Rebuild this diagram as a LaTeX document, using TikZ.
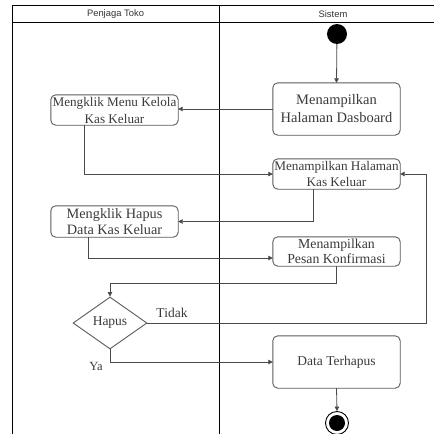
\documentclass[tikz,border=0pt]{standalone}
\usepackage{fontspec}
\setmainfont{Liberation Serif}
\newfontfamily\hdrfont{Liberation Sans}
\usetikzlibrary{arrows.meta,shapes.geometric}
\definecolor{boxline}{HTML}{5A5A5A}
\definecolor{txt}{HTML}{3A3A3A}
\definecolor{conn}{HTML}{4A4A4A}
\tikzset{
  act/.style={minimum width=127pt,inner sep=0pt,align=center,text=txt,font=\fontsize{13.5}{15.5}\selectfont},
  actbox/.style={draw=boxline,line width=0.9pt,rounded corners=5pt},
  dec/.style={draw=boxline,line width=0.9pt,diamond,minimum width=74pt,minimum height=52pt,inner sep=0pt,text=txt,font=\fontsize{13.5}{15}\selectfont},
  flow/.style={draw=conn,line width=0.8pt,-{Triangle[length=4.5pt,width=4.5pt]}},
  lane/.style={draw=black,line width=0.8pt},
  hdr/.style={font=\hdrfont\fontsize{9.4}{10}\selectfont,text=black!80},
  lbl/.style={text=txt,font=\fontsize{13.5}{15}\selectfont}
}
\begin{document}
\begin{tikzpicture}[x=1pt,y=-1pt]
\useasboundingbox (0,0) rectangle (434,434);
% swimlanes
\draw[lane] (12,434) -- (12,5) -- (434,5);
\draw[lane,line width=1.2pt] (12,22.5) -- (434,22.5);
\draw[lane] (219,5) -- (219,434);
\node[hdr] (h1) at (115.5,14) {Penjaga Toko};
\node[hdr] (h2) at (333,14) {Sistem};
% nodes
\node[circle,fill=black,minimum size=20pt,inner sep=0pt] (start) at (337,34) {};
\node[act,minimum height=52pt,font=\fontsize{14.5}{18}\selectfont] (dash) at (336.5,109) {Menampilkan\\Halaman Dasboard};
\node[act,minimum height=30pt,font=\fontsize{13.2}{17}\selectfont] (menu) at (114.5,110) {Mengklik Menu Kelola\\Kas Keluar};
\node[act,minimum height=30pt,font=\fontsize{13.2}{16}\selectfont] (kas) at (336.5,174) {Menampilkan Halaman\\Kas Keluar};
\node[act,minimum height=31pt,font=\fontsize{14.3}{16}\selectfont] (hap) at (114.5,221.5) {Mengklik Hapus\\Data Kas Keluar};
\node[act,minimum height=29pt,font=\fontsize{13.8}{15}\selectfont] (pesan) at (336.5,251.5) {Menampilkan\\Pesan Konfirmasi};
\node[dec] (d) at (110,323) {Hapus};
\node[act,minimum height=52pt] (ter) at (336.5,362) {Data Terhapus};
\node[circle,draw=black,line width=0.9pt,minimum size=23pt,inner sep=0pt] (end) at (337,423) {};
\node[circle,fill=black,minimum size=16pt,inner sep=0pt] (endin) at (337,423) {};
\foreach \n in {dash,menu,kas,hap,pesan,ter}
  \draw[actbox] (\n.south west) rectangle (\n.north east);
\coordinate (j1) at (110,283);
\coordinate (r1) at (426,174);
% connectors
\draw[flow] (start) -- (dash.north);
\draw[flow] (dash.west) -- (dash.west -| menu.east);
\draw[flow] ([xshift=-30.5pt]menu.south) |- (kas.west);
\draw[flow] ([xshift=-23.5pt]kas.south) |- (hap.east);
\draw[flow] ([xshift=-26.5pt]hap.south) |- ([yshift=-6.5pt]pesan.west);
\draw[flow] (pesan.south) |- (j1) -- (d.north);
\draw[flow] (d.east) -| (r1) -- (kas.east);
\draw[flow] (d.south) |- (ter.west);
\draw[flow] (ter.south) -- (end.north);
% labels
\node[lbl] (tidak) at (172,313) {Tidak};
\node[lbl,font=\fontsize{12.5}{14}\selectfont] (ya) at (96,366) {Ya};
\end{tikzpicture}
\end{document}
